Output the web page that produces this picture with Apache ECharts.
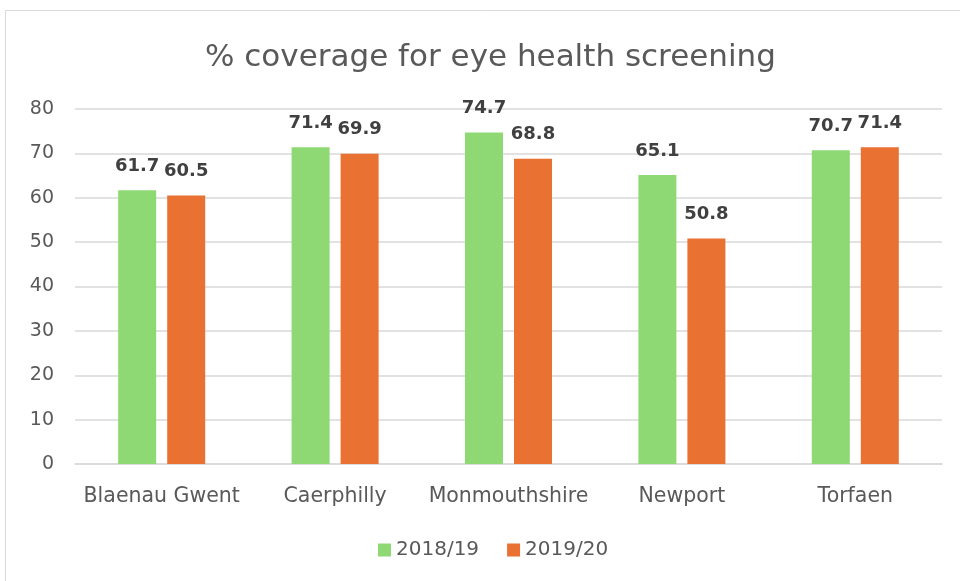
<!DOCTYPE html>
<html>
<head>
<meta charset="utf-8">
<script src="https://cdn.jsdelivr.net/npm/echarts@6/dist/echarts.min.js"></script>
<style>
html,body{margin:0;padding:0;background:#fff;}
#chart{width:960px;height:581px;}
</style>
</head>
<body>
<div id="chart"></div>
<script>
const categories = ['Blaenau Gwent', 'Caerphilly', 'Monmouthshire', 'Newport', 'Torfaen'];
const series2018 = [61.7, 71.4, 74.7, 65.1, 70.7];
const series2019 = [60.5, 69.9, 68.8, 50.8, 71.4];
const seriesNames = ['2018/19', '2019/20'];
const titleText = '% coverage for eye health screening';

const FONT = 'DejaVu Sans';
const chart = echarts.init(document.getElementById('chart'));
const labelStyle = {
  show: true, position: 'top', distance: 15,
  fontFamily: FONT, fontSize: 18, fontWeight: 'bold', color: '#404040',
  formatter: p => p.value.toFixed(1)
};
chart.setOption({
  animation: false,
  graphic: [{
    type: 'rect', shape: {x: 5.5, y: 10.5, width: 1000, height: 1000},
    style: {fill: 'none', stroke: '#d9d9d9', lineWidth: 1}, silent: true, z: -1
  }],
  title: {
    text: titleText, left: 200, top: 37,
    textStyle: {fontFamily: FONT, fontSize: 31, fontWeight: 'normal', color: '#595959'}
  },
  legend: {
    bottom: 16, left: 373, itemWidth: 13, itemHeight: 13, itemGap: 28,
    icon: 'rect',
    textStyle: {fontFamily: FONT, fontSize: 20, color: '#595959'},
    data: seriesNames
  },
  grid: {left: 75, right: 18, top: 109, bottom: 117, containLabel: false},
  xAxis: {
    type: 'category', data: categories,
    axisLine: {lineStyle: {color: '#d9d9d9', width: 1.5}},
    axisTick: {show: false},
    axisLabel: {fontFamily: FONT, fontSize: 20.5, color: '#595959', margin: 22, interval: 0}
  },
  yAxis: {
    type: 'value', min: 0, max: 80, interval: 10,
    axisLine: {show: false}, axisTick: {show: false},
    splitLine: {lineStyle: {color: '#d9d9d9', width: 1.5}},
    axisLabel: {fontFamily: FONT, fontSize: 19, color: '#595959', margin: 21}
  },
  series: [
    {name: seriesNames[0], type: 'bar', data: series2018, barWidth: 38, barGap: '29%',
     itemStyle: {color: '#8ED973'}, label: labelStyle},
    {name: seriesNames[1], type: 'bar', data: series2019, barWidth: 38,
     itemStyle: {color: '#E97132'}, label: labelStyle}
  ]
});
</script>
</body>
</html>
